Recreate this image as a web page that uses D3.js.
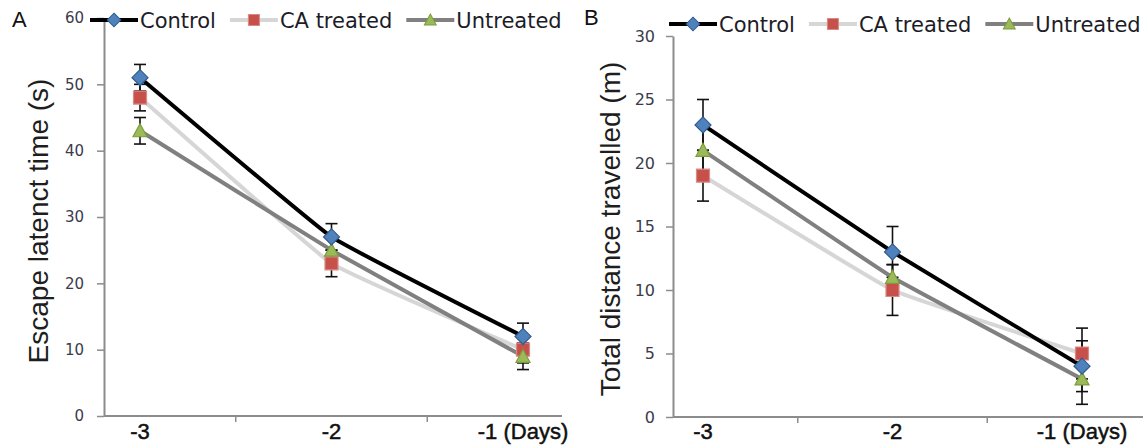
<!DOCTYPE html>
<html>
<head>
<meta charset="utf-8">
<script src="https://cdn.jsdelivr.net/npm/d3@7"></script>
<style>
  body { margin: 0; background: #fff; }
  svg { display: block; }
</style>
</head>
<body>
<div id="chart"></div>
<script>
// categories and series
const days = ["-3", "-2", "-1 (Days)"]
const seriesNames = ["Control", "CA treated", "Untreated"]

// panel A: escape latency (s)
const escapeControl = [51, 27, 12]
const escapeCA = [48, 23, 10]
const escapeUntreated = [43, 25, 9]
const escapeControlErr = [2, 2, 2]
const escapeCAErr = [2, 2, 2]
const escapeUntreatedErr = [2, 2, 2]
const escapeTicks = [0, 10, 20, 30, 40, 50, 60]

// panel B: total distance (m)
const distControl = [23, 13, 4]
const distCA = [19, 10, 5]
const distUntreated = [21, 11, 3]
const distControlErr = [2, 2, 2]
const distCAErr = [2, 2, 2]
const distUntreatedErr = [2, 1, 2]
const distTicks = [0, 5, 10, 15, 20, 25, 30]

const styles = {
  "Control":    {line: "#000000", width: 4, shape: "diamond",  fill: "#4f81bd", stroke: "#2f5a8c"},
  "CA treated": {line: "#d6d6d6", width: 4, shape: "square",   fill: "#c8504b", stroke: "#d98a88"},
  "Untreated":  {line: "#808080", width: 4, shape: "triangle", fill: "#9bbb59", stroke: "#7d9c3e"}
}
const drawOrder = ["CA treated", "Untreated", "Control"]

const svg = d3.select("#chart").append("svg")
  .attr("width", 1144)
  .attr("height", 446)

function markerPath(shape) {
  if (shape === "diamond") return "M0,-8L8,0L0,8L-8,0Z"
  if (shape === "square") return "M-6.5,-6.5H6.5V6.5H-6.5Z"
  return "M0,-7L7,6H-7Z"
}

function drawPanel(cfg) {
  const g = svg.append("g")

  const x = d3.scalePoint().domain(days).range([cfg.xFirst, cfg.xLast])
  const y = d3.scaleLinear().domain([0, d3.max(cfg.ticks)]).range([cfg.yBottom, cfg.yTop])

  // y axis
  const yAxis = g.append("g")
    .attr("transform", `translate(${cfg.xAxis},0)`)
    .call(d3.axisLeft(y).tickValues(cfg.ticks).tickSize(7).tickSizeOuter(0).tickPadding(cfg.tickPad))
  yAxis.select(".domain").attr("stroke", "#8c8c8c").attr("stroke-width", 2)
  yAxis.selectAll(".tick line").attr("stroke", "#8c8c8c").attr("stroke-width", 1.5)
  yAxis.selectAll(".tick text")
    .attr("font-family", "DejaVu Sans")
    .attr("font-size", cfg.tickFont)
    .attr("fill", "#3b3b4a")

  // x axis: line, boundary ticks between days, labels at days
  g.append("line")
    .attr("x1", cfg.xAxis).attr("x2", cfg.plotRight)
    .attr("y1", cfg.yBottom).attr("y2", cfg.yBottom)
    .attr("stroke", "#8c8c8c").attr("stroke-width", 2)
  const step = x.step()
  g.selectAll(".bound")
    .data(days.slice(0, -1))
    .join("line")
    .attr("x1", d => x(d) + step / 2).attr("x2", d => x(d) + step / 2)
    .attr("y1", cfg.yBottom).attr("y2", cfg.yBottom + 6)
    .attr("stroke", "#8c8c8c").attr("stroke-width", 1.5)
  g.selectAll(".xlab")
    .data(days)
    .join("text")
    .attr("x", d => x(d))
    .attr("y", 439)
    .attr("text-anchor", "middle")
    .attr("font-family", "Liberation Sans, Arial, sans-serif")
    .attr("font-size", 22)
    .attr("fill", "#111")
    .attr("stroke", "#111")
    .attr("stroke-width", 0.5)
    .text(d => d)

  // y title
  g.append("text")
    .attr("transform", `translate(${cfg.titleX},${cfg.titleY}) rotate(-90)`)
    .attr("text-anchor", "middle")
    .attr("font-family", "Liberation Sans, Arial, sans-serif")
    .attr("font-size", 28)
    .attr("fill", "#1e1e1e")
    .text(cfg.title)

  // panel letter
  g.append("text")
    .attr("x", cfg.letterX).attr("y", cfg.letterY)
    .attr("font-family", "Liberation Sans, Arial, sans-serif")
    .attr("font-size", 22)
    .attr("fill", "#111")
    .text(cfg.letter)

  const line = d3.line()
    .x(d => x(d.day))
    .y(d => y(d.value))
    .curve(d3.curveCardinal.tension(0.75))

  const rows = name => days.map((day, i) => ({
    day, value: cfg.series[name][i], err: cfg.errors[name][i]
  }))

  // lines
  drawOrder.forEach(name => {
    g.append("path")
      .datum(rows(name))
      .attr("d", line)
      .attr("fill", "none")
      .attr("stroke", styles[name].line)
      .attr("stroke-width", styles[name].width)
      .attr("stroke-linejoin", "round")
  })

  // error bars
  drawOrder.forEach(name => {
    const eb = g.append("g")
    rows(name).forEach(d => {
      const cx = x(d.day)
      eb.append("line")
        .attr("x1", cx).attr("x2", cx)
        .attr("y1", y(d.value - d.err)).attr("y2", y(d.value + d.err))
      eb.append("line")
        .attr("x1", cx - 6).attr("x2", cx + 6)
        .attr("y1", y(d.value - d.err)).attr("y2", y(d.value - d.err))
      eb.append("line")
        .attr("x1", cx - 6).attr("x2", cx + 6)
        .attr("y1", y(d.value + d.err)).attr("y2", y(d.value + d.err))
    })
    eb.selectAll("line").attr("stroke", "#111").attr("stroke-width", 1.6)
  })

  // markers
  drawOrder.forEach(name => {
    g.selectAll(null)
      .data(rows(name))
      .join("path")
      .attr("transform", d => `translate(${x(d.day)},${y(d.value)})`)
      .attr("d", markerPath(styles[name].shape))
      .attr("fill", styles[name].fill)
      .attr("stroke", styles[name].stroke)
      .attr("stroke-width", 1.2)
  })

  // legend
  let lx = cfg.legendX
  seriesNames.forEach(name => {
    const s = styles[name]
    const item = g.append("g").attr("transform", `translate(${lx},${cfg.legendY})`)
    item.append("line")
      .attr("x1", 0).attr("x2", 48)
      .attr("stroke", s.line).attr("stroke-width", s.width)
    item.append("path")
      .attr("transform", "translate(24,0) scale(0.85)")
      .attr("d", markerPath(s.shape))
      .attr("fill", s.fill)
      .attr("stroke", s.stroke)
      .attr("stroke-width", 1.2)
    const t = item.append("text")
      .attr("x", 50).attr("y", 7.5)
      .attr("font-family", "DejaVu Sans")
      .attr("font-size", 21)
      .attr("fill", "#1c1c28")
      .text(name)
    lx += 50 + t.node().getComputedTextLength() + 14
  })
}

drawPanel({
  letter: "A", letterX: 12, letterY: 27,
  title: "Escape latenct time (s)", titleX: 48, titleY: 221,
  xAxis: 104, plotRight: 562, yTop: 18, yBottom: 416,
  xFirst: 140, xLast: 523,
  ticks: escapeTicks, tickPad: 13, tickFont: 15,
  series: {"Control": escapeControl, "CA treated": escapeCA, "Untreated": escapeUntreated},
  errors: {"Control": escapeControlErr, "CA treated": escapeCAErr, "Untreated": escapeUntreatedErr},
  legendX: 90, legendY: 20
})

drawPanel({
  letter: "B", letterX: 584, letterY: 25,
  title: "Total distance travelled (m)", titleX: 620, titleY: 229,
  xAxis: 673, plotRight: 1143, yTop: 36, yBottom: 417,
  xFirst: 703, xLast: 1082,
  ticks: distTicks, tickPad: 11, tickFont: 16,
  series: {"Control": distControl, "CA treated": distCA, "Untreated": distUntreated},
  errors: {"Control": distControlErr, "CA treated": distCAErr, "Untreated": distUntreatedErr},
  legendX: 669, legendY: 24
})
</script>
</body>
</html>
